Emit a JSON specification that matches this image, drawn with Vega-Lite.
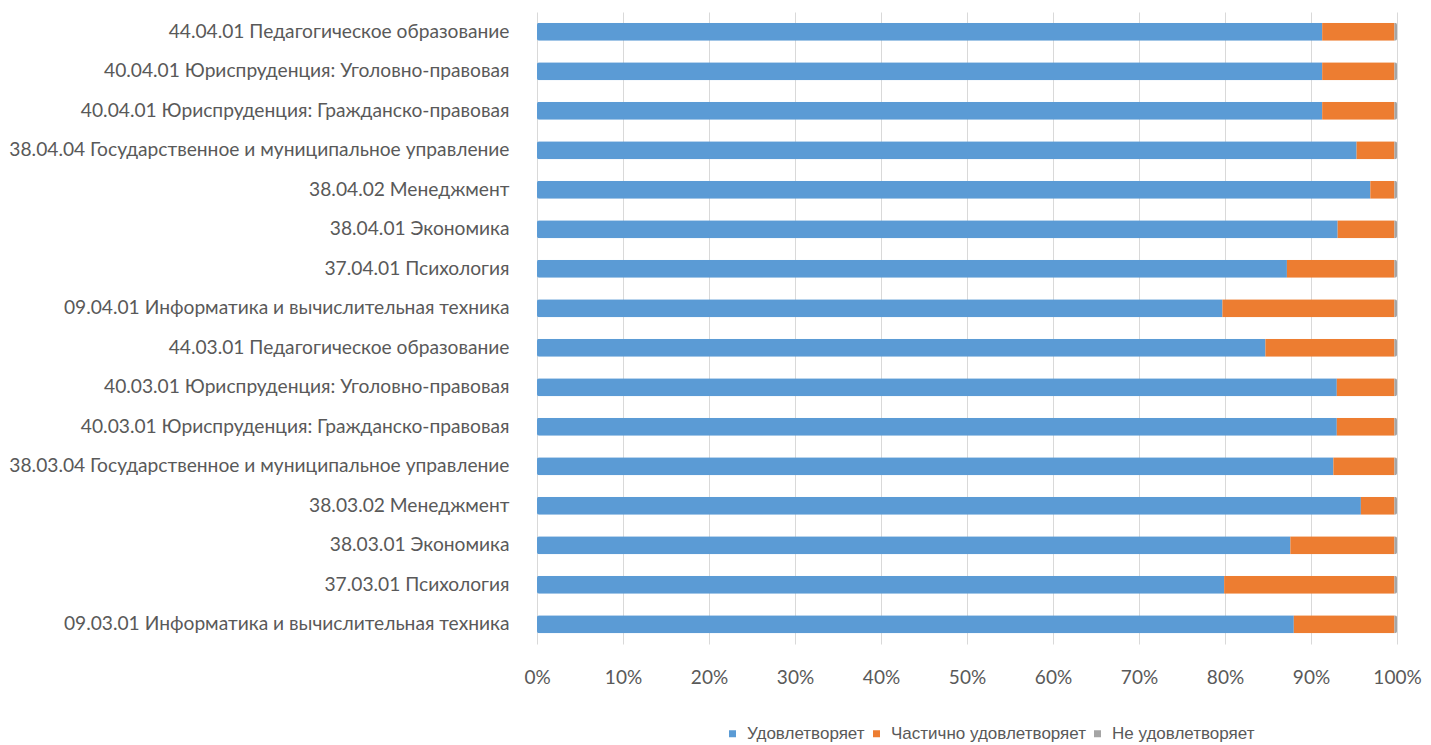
{
  "$schema": "https://vega.github.io/schema/vega-lite/v6.json",
  "width": 860,
  "height": 632,
  "autosize": {"type": "none"},
  "padding": {"left": 537, "top": 12, "right": 34, "bottom": 101},
  "background": "#ffffff",
  "config": {
    "view": {"stroke": null},
    "font": "Lato"
  },
  "data": {
    "values": [
      {"cat": "44.04.01 Педагогическое образование", "type": "Удовлетворяет", "n": 1, "v": 91.3},
      {"cat": "44.04.01 Педагогическое образование", "type": "Частично удовлетворяет", "n": 2, "v": 8.4},
      {"cat": "44.04.01 Педагогическое образование", "type": "Не удовлетворяет", "n": 3, "v": 0.3},
      {"cat": "40.04.01 Юриспруденция: Уголовно-правовая", "type": "Удовлетворяет", "n": 1, "v": 91.3},
      {"cat": "40.04.01 Юриспруденция: Уголовно-правовая", "type": "Частично удовлетворяет", "n": 2, "v": 8.4},
      {"cat": "40.04.01 Юриспруденция: Уголовно-правовая", "type": "Не удовлетворяет", "n": 3, "v": 0.3},
      {"cat": "40.04.01 Юриспруденция: Гражданско-правовая", "type": "Удовлетворяет", "n": 1, "v": 91.3},
      {"cat": "40.04.01 Юриспруденция: Гражданско-правовая", "type": "Частично удовлетворяет", "n": 2, "v": 8.4},
      {"cat": "40.04.01 Юриспруденция: Гражданско-правовая", "type": "Не удовлетворяет", "n": 3, "v": 0.3},
      {"cat": "38.04.04 Государственное и муниципальное управление", "type": "Удовлетворяет", "n": 1, "v": 95.3},
      {"cat": "38.04.04 Государственное и муниципальное управление", "type": "Частично удовлетворяет", "n": 2, "v": 4.4},
      {"cat": "38.04.04 Государственное и муниципальное управление", "type": "Не удовлетворяет", "n": 3, "v": 0.3},
      {"cat": "38.04.02 Менеджмент", "type": "Удовлетворяет", "n": 1, "v": 96.9},
      {"cat": "38.04.02 Менеджмент", "type": "Частично удовлетворяет", "n": 2, "v": 2.8},
      {"cat": "38.04.02 Менеджмент", "type": "Не удовлетворяет", "n": 3, "v": 0.3},
      {"cat": "38.04.01 Экономика", "type": "Удовлетворяет", "n": 1, "v": 93.1},
      {"cat": "38.04.01 Экономика", "type": "Частично удовлетворяет", "n": 2, "v": 6.6},
      {"cat": "38.04.01 Экономика", "type": "Не удовлетворяет", "n": 3, "v": 0.3},
      {"cat": "37.04.01 Психология", "type": "Удовлетворяет", "n": 1, "v": 87.2},
      {"cat": "37.04.01 Психология", "type": "Частично удовлетворяет", "n": 2, "v": 12.5},
      {"cat": "37.04.01 Психология", "type": "Не удовлетворяет", "n": 3, "v": 0.3},
      {"cat": "09.04.01 Информатика и вычислительная техника", "type": "Удовлетворяет", "n": 1, "v": 79.7},
      {"cat": "09.04.01 Информатика и вычислительная техника", "type": "Частично удовлетворяет", "n": 2, "v": 20.0},
      {"cat": "09.04.01 Информатика и вычислительная техника", "type": "Не удовлетворяет", "n": 3, "v": 0.3},
      {"cat": "44.03.01 Педагогическое образование", "type": "Удовлетворяет", "n": 1, "v": 84.7},
      {"cat": "44.03.01 Педагогическое образование", "type": "Частично удовлетворяет", "n": 2, "v": 15.0},
      {"cat": "44.03.01 Педагогическое образование", "type": "Не удовлетворяет", "n": 3, "v": 0.3},
      {"cat": "40.03.01 Юриспруденция: Уголовно-правовая", "type": "Удовлетворяет", "n": 1, "v": 93.0},
      {"cat": "40.03.01 Юриспруденция: Уголовно-правовая", "type": "Частично удовлетворяет", "n": 2, "v": 6.7},
      {"cat": "40.03.01 Юриспруденция: Уголовно-правовая", "type": "Не удовлетворяет", "n": 3, "v": 0.3},
      {"cat": "40.03.01 Юриспруденция: Гражданско-правовая", "type": "Удовлетворяет", "n": 1, "v": 93.0},
      {"cat": "40.03.01 Юриспруденция: Гражданско-правовая", "type": "Частично удовлетворяет", "n": 2, "v": 6.7},
      {"cat": "40.03.01 Юриспруденция: Гражданско-правовая", "type": "Не удовлетворяет", "n": 3, "v": 0.3},
      {"cat": "38.03.04 Государственное и муниципальное управление", "type": "Удовлетворяет", "n": 1, "v": 92.6},
      {"cat": "38.03.04 Государственное и муниципальное управление", "type": "Частично удовлетворяет", "n": 2, "v": 7.1},
      {"cat": "38.03.04 Государственное и муниципальное управление", "type": "Не удовлетворяет", "n": 3, "v": 0.3},
      {"cat": "38.03.02 Менеджмент", "type": "Удовлетворяет", "n": 1, "v": 95.8},
      {"cat": "38.03.02 Менеджмент", "type": "Частично удовлетворяет", "n": 2, "v": 3.9},
      {"cat": "38.03.02 Менеджмент", "type": "Не удовлетворяет", "n": 3, "v": 0.3},
      {"cat": "38.03.01 Экономика", "type": "Удовлетворяет", "n": 1, "v": 87.6},
      {"cat": "38.03.01 Экономика", "type": "Частично удовлетворяет", "n": 2, "v": 12.1},
      {"cat": "38.03.01 Экономика", "type": "Не удовлетворяет", "n": 3, "v": 0.3},
      {"cat": "37.03.01 Психология", "type": "Удовлетворяет", "n": 1, "v": 79.9},
      {"cat": "37.03.01 Психология", "type": "Частично удовлетворяет", "n": 2, "v": 19.8},
      {"cat": "37.03.01 Психология", "type": "Не удовлетворяет", "n": 3, "v": 0.3},
      {"cat": "09.03.01 Информатика и вычислительная техника", "type": "Удовлетворяет", "n": 1, "v": 88.0},
      {"cat": "09.03.01 Информатика и вычислительная техника", "type": "Частично удовлетворяет", "n": 2, "v": 11.7},
      {"cat": "09.03.01 Информатика и вычислительная техника", "type": "Не удовлетворяет", "n": 3, "v": 0.3}
    ]
  },
  "mark": {"type": "bar", "cornerRadius": 2},
  "encoding": {
    "y": {
      "field": "cat",
      "type": "nominal",
      "sort": null,
      "scale": {"paddingInner": 0.54, "paddingOuter": 0.27},
      "axis": {
        "title": null,
        "ticks": false,
        "domain": false,
        "labelPadding": 28,
        "labelFont": "Lato",
        "labelFontSize": 19.2,
        "labelColor": "#595959",
        "labelLimit": 600
      }
    },
    "x": {
      "field": "v",
      "type": "quantitative",
      "stack": "normalize",
      "scale": {"domain": [0, 1]},
      "axis": {
        "title": null,
        "format": "%",
        "values": [0, 0.1, 0.2, 0.3, 0.4, 0.5, 0.6, 0.7, 0.8, 0.9, 1],
        "labelOverlap": false,
        "labelFlush": false,
        "ticks": false,
        "domain": false,
        "grid": true,
        "gridColor": "#d9d9d9",
        "labelPadding": 24,
        "labelFont": "Lato",
        "labelFontSize": 19,
        "labelColor": "#595959"
      }
    },
    "color": {
      "field": "type",
      "type": "nominal",
      "sort": ["Удовлетворяет", "Частично удовлетворяет", "Не удовлетворяет"],
      "scale": {
        "domain": ["Удовлетворяет", "Частично удовлетворяет", "Не удовлетворяет"],
        "range": ["#5b9bd5", "#ed7d31", "#a5a5a5"]
      },
      "legend": {
        "title": null,
        "orient": "none",
        "direction": "horizontal",
        "legendX": 187,
        "legendY": 713,
        "symbolType": "square",
        "symbolSize": 49,
        "symbolStrokeWidth": 0,
        "labelFont": "Liberation Sans",
        "labelFontSize": 17,
        "labelColor": "#595959",
        "labelLimit": 400,
        "labelOffset": 6,
        "columnPadding": 3,
        "symbolOffset": 0
      }
    },
    "order": {"field": "n", "type": "quantitative"}
  }
}
